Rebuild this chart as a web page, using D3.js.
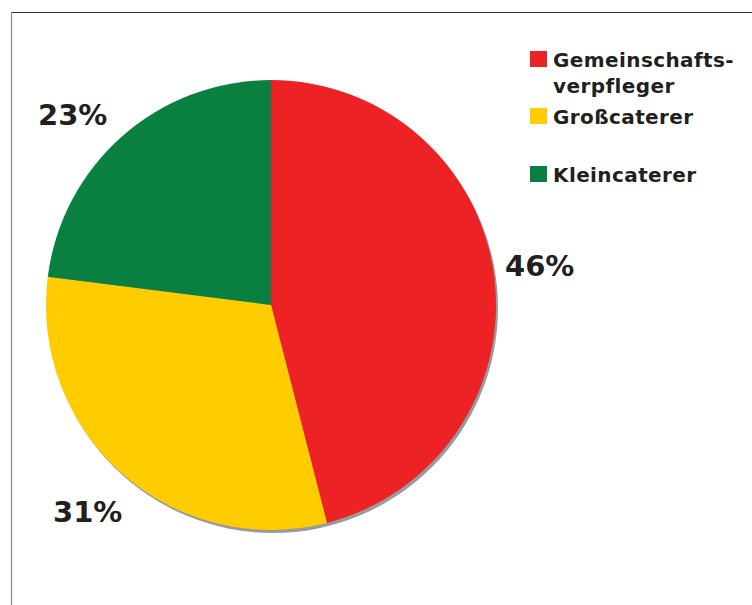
<!DOCTYPE html>
<html>
<head>
<meta charset="utf-8">
<script src="https://cdn.jsdelivr.net/npm/d3@7"></script>
<style>
  html, body { margin: 0; padding: 0; background: #fff; }
  svg { display: block; }
  text { font-family: "DejaVu Sans", Verdana, sans-serif; font-weight: bold; fill: #231f20; }
</style>
</head>
<body>
<svg id="chart" width="752" height="605"></svg>
<script>
// Anteile der Verpflegungsanbieter
const categories = ["Gemeinschafts-\nverpfleger", "Großcaterer", "Kleincaterer"];
const shares = [46, 31, 23];
const sliceColors = ["#ed2224", "#ffcc00", "#0a8040"];
const percentLabels = ["46%", "31%", "23%"];

const svg = d3.select("#chart");

// frame lines (top and left)
svg.append("line").attr("x1", 11).attr("y1", 12.5).attr("x2", 752).attr("y2", 12.5)
  .attr("stroke", "#333").attr("stroke-width", 1.2);
svg.append("line").attr("x1", 11.5).attr("y1", 12).attr("x2", 11.5).attr("y2", 605)
  .attr("stroke", "#888").attr("stroke-width", 1.2);

const cx = 271, cy = 305, radius = 225;

const pie = d3.pie().sort(null).value(d => d)(shares);
const arc = d3.arc().innerRadius(0).outerRadius(radius);

const g = svg.append("g").attr("transform", `translate(${cx},${cy})`);

// drop shadow under the pie
g.append("circle").attr("cx", 2).attr("cy", 3).attr("r", radius).attr("fill", "#9a9a9a");

g.selectAll("path.slice").data(pie).join("path")
  .attr("class", "slice")
  .attr("d", arc)
  .attr("fill", (d, i) => sliceColors[i]);

// percentage labels outside the pie
const labelPos = [[505, 276], [53, 522], [38, 125]];
svg.selectAll("text.pct").data(percentLabels).join("text")
  .attr("class", "pct")
  .attr("x", (d, i) => labelPos[i][0])
  .attr("y", (d, i) => labelPos[i][1])
  .attr("font-size", 29)
  .text(d => d);

// legend
const legendY = [51, 108, 166];
const legend = svg.append("g");
legend.selectAll("rect").data(categories).join("rect")
  .attr("x", 530).attr("y", (d, i) => legendY[i])
  .attr("width", 17).attr("height", 16)
  .attr("fill", (d, i) => sliceColors[i]);

legend.selectAll("text").data(categories).join("text")
  .attr("x", 553)
  .attr("y", (d, i) => legendY[i] + 16)
  .attr("font-size", 20)
  .attr("letter-spacing", 0.4)
  .each(function(d) {
    const lines = d.split("\n");
    d3.select(this).selectAll("tspan").data(lines).join("tspan")
      .attr("x", 553)
      .attr("dy", (l, j) => j === 0 ? 0 : 26)
      .text(l => l);
  });
</script>
</body>
</html>
